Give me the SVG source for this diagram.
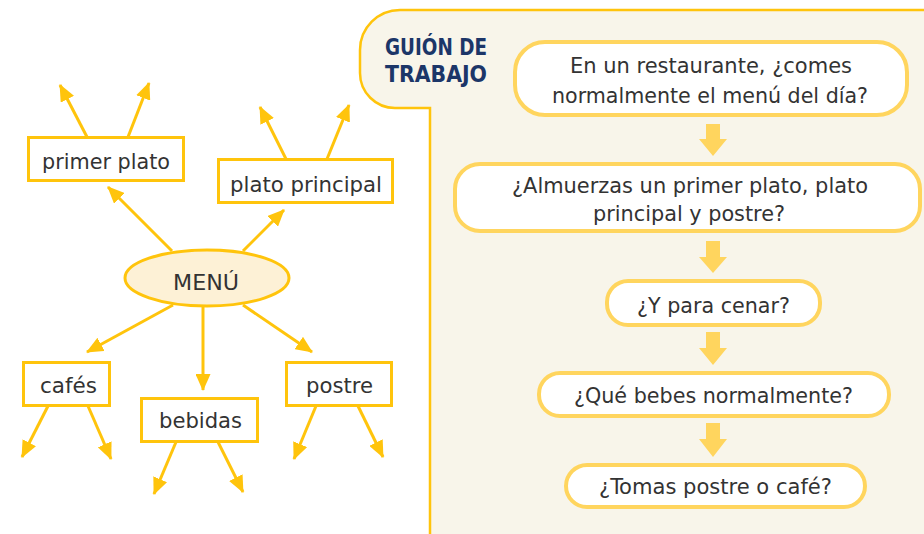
<svg xmlns="http://www.w3.org/2000/svg" width="924" height="534" viewBox="0 0 924 534">
<defs>
<style>
.t{font-family:"Liberation Sans Narrow","DejaVu Sans Condensed","Liberation Sans",sans-serif;font-size:22px;fill:#333333;text-anchor:middle;}
.h{font-family:"Liberation Sans Narrow","DejaVu Sans Condensed","Liberation Sans",sans-serif;font-size:23px;font-weight:bold;fill:#1c3668;}
.box{fill:#ffffff;stroke:#ffc40c;stroke-width:3;}
.fbox{fill:#ffffff;stroke:#ffd55e;stroke-width:4;}
.con{stroke:#ffc40c;stroke-width:3;fill:none;marker-end:url(#ah);}
.farr{fill:#ffd55e;}
</style>
<marker id="ah" viewBox="0 0 17 15" refX="16" refY="7.5" markerWidth="17" markerHeight="15" markerUnits="userSpaceOnUse" orient="auto">
<path d="M0,0 L17,7.5 L0,15 z" fill="#ffc40c"/>
</marker>
</defs>
<rect width="924" height="534" fill="#ffffff"/>
<g id="panel">
<path d="M 930 10 L 400 10 A 40 40 0 0 0 360 50 L 360 73 A 35 35 0 0 0 395 108 L 430 108 L 430 540 L 930 540 Z" fill="#f8f5ea" stroke="#ffc40c" stroke-width="2.5"/>
<text class="h" x="385" y="55" textLength="102" lengthAdjust="spacingAndGlyphs">GUIÓN DE</text>
<text class="h" x="385" y="82" textLength="102" lengthAdjust="spacingAndGlyphs">TRABAJO</text>
</g>
<g id="connectors">
<line class="con" x1="172" y1="251" x2="108" y2="187"/>
<line class="con" x1="243" y1="251" x2="284" y2="210"/>
<line class="con" x1="87" y1="137" x2="60" y2="85"/>
<line class="con" x1="128" y1="137" x2="149" y2="83"/>
<line class="con" x1="286" y1="159" x2="260" y2="107"/>
<line class="con" x1="327" y1="159" x2="349" y2="105"/>
<line class="con" x1="173" y1="305" x2="87" y2="352"/>
<line class="con" x1="203" y1="307" x2="203" y2="390"/>
<line class="con" x1="243" y1="305" x2="312" y2="352"/>
<line class="con" x1="48" y1="406" x2="22" y2="457"/>
<line class="con" x1="88" y1="406" x2="111" y2="459"/>
<line class="con" x1="176" y1="442" x2="154" y2="494"/>
<line class="con" x1="218" y1="442" x2="243" y2="492"/>
<line class="con" x1="316" y1="406" x2="294" y2="459"/>
<line class="con" x1="358" y1="406" x2="383" y2="457"/>
<polygon class="farr" points="706,124 720,124 720,139 727,139 713,156 699,139 706,139"/>
<polygon class="farr" points="706,241 720,241 720,257 727,257 713,273 699,257 706,257"/>
<polygon class="farr" points="706,332 720,332 720,348 727,348 713,365 699,348 706,348"/>
<polygon class="farr" points="706,423 720,423 720,439 727,439 713,457 699,439 706,439"/>
</g>
<g id="menu">
<ellipse cx="207" cy="278" rx="82" ry="28" fill="#fdf1d6" stroke="#ffc40c" stroke-width="3"/>
<text class="t" x="206" y="290" textLength="66" lengthAdjust="spacingAndGlyphs">MENÚ</text>
</g>
<g id="primer-plato">
<rect class="box" x="28.5" y="137.5" width="155" height="43"/>
<text class="t" x="106" y="169" textLength="128" lengthAdjust="spacingAndGlyphs">primer plato</text>
</g>
<g id="plato-principal">
<rect class="box" x="218.5" y="159.5" width="174" height="43"/>
<text class="t" x="306" y="192" textLength="152" lengthAdjust="spacingAndGlyphs">plato principal</text>
</g>
<g id="cafes">
<rect class="box" x="23.5" y="362.5" width="86" height="43"/>
<text class="t" x="68.5" y="393" textLength="57" lengthAdjust="spacingAndGlyphs">cafés</text>
</g>
<g id="bebidas">
<rect class="box" x="141.5" y="398.5" width="116" height="43"/>
<text class="t" x="200.5" y="428" textLength="83" lengthAdjust="spacingAndGlyphs">bebidas</text>
</g>
<g id="postre">
<rect class="box" x="286.5" y="362.5" width="105" height="43"/>
<text class="t" x="339.5" y="393" textLength="67" lengthAdjust="spacingAndGlyphs">postre</text>
</g>
<g id="q1">
<rect class="fbox" x="515" y="42" width="392" height="73" rx="30"/>
<text class="t" x="711" y="73" textLength="282" lengthAdjust="spacingAndGlyphs">En un restaurante, ¿comes</text>
<text class="t" x="710" y="103" textLength="316" lengthAdjust="spacingAndGlyphs">normalmente el menú del día?</text>
</g>
<g id="q2">
<rect class="fbox" x="455" y="164" width="465" height="67" rx="25"/>
<text class="t" x="690" y="193" textLength="356" lengthAdjust="spacingAndGlyphs">¿Almuerzas un primer plato, plato</text>
<text class="t" x="689" y="221" textLength="192" lengthAdjust="spacingAndGlyphs">principal y postre?</text>
</g>
<g id="q3">
<rect class="fbox" x="607" y="281" width="213" height="44" rx="21"/>
<text class="t" x="713.5" y="313" textLength="153" lengthAdjust="spacingAndGlyphs">¿Y para cenar?</text>
</g>
<g id="q4">
<rect class="fbox" x="539" y="373" width="350" height="43" rx="21"/>
<text class="t" x="713.5" y="403" textLength="279" lengthAdjust="spacingAndGlyphs">¿Qué bebes normalmente?</text>
</g>
<g id="q5">
<rect class="fbox" x="566" y="465" width="299" height="42" rx="21"/>
<text class="t" x="715.5" y="494" textLength="233" lengthAdjust="spacingAndGlyphs">¿Tomas postre o café?</text>
</g>
</svg>
